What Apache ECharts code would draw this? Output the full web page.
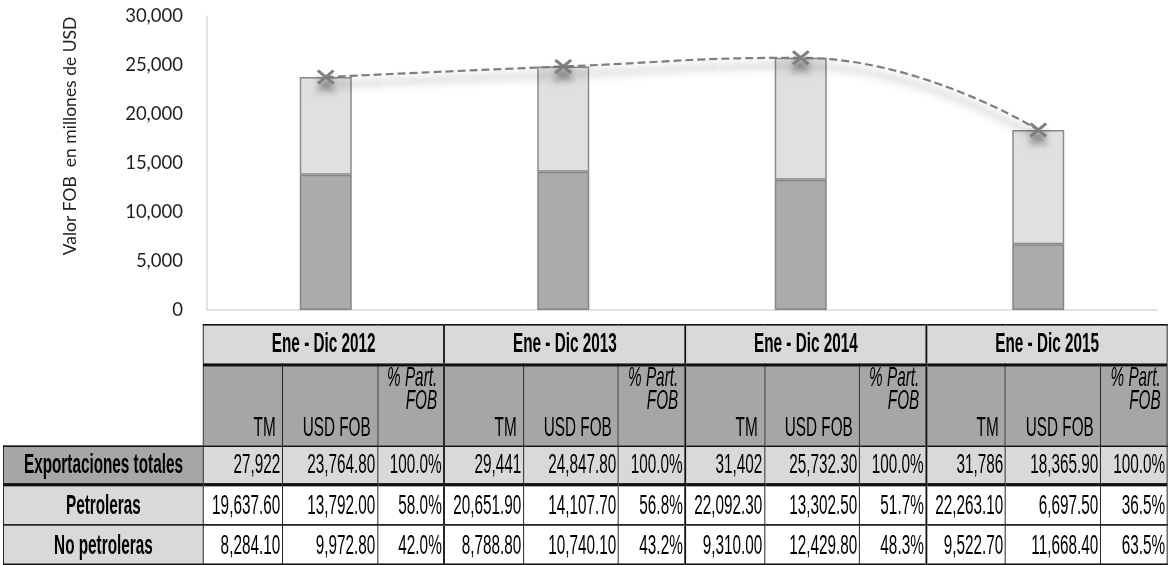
<!DOCTYPE html>
<html>
<head>
<meta charset="utf-8">
<script src="https://cdn.jsdelivr.net/npm/echarts@6/dist/echarts.min.js"></script>
<style>
  html, body { margin: 0; padding: 0; background: #fff; overflow: hidden; }
  #chart { position: absolute; left: 0; top: 0; width: 1173px; height: 565px; }
  #tbl {
    position: absolute; left: 3px; top: 324px; width: 1294px;
    transform: scale(0.9, 1.64); transform-origin: 0 0;
    font-family: "Liberation Sans", Arial, sans-serif; font-size: 17px; color: #000;
  }
  #tbl table { border-collapse: collapse; table-layout: fixed; width: 1294px; }
  #tbl td { padding: 0; white-space: nowrap; overflow: hidden; border: 1px solid #111; }
  #tbl td.blank { border: none; background: #fff; }
  #tbl td.year { background: #d9d9d9; font-weight: bold; text-align: center; border-bottom: 2px solid #111; }
  #tbl td.sub { background: #a6a6a6; text-align: right; vertical-align: bottom; padding-right: 7px; padding-bottom: 1px; }
  #tbl td.pct { font-style: italic; vertical-align: top; line-height: 13.8px; padding-top: 0.5px; }
  #tbl td.lab { font-weight: bold; text-align: center; background: #d9d9d9; }
  #tbl td.val { text-align: right; padding-right: 2px; background: #fff; }
  #tbl tr.tot td { background: #d9d9d9; border-bottom: 2px solid #111; }
  #tbl tr.tot td.lab { background: #a6a6a6; }
  #tbl td.g { border-left: 2px solid #111; }
</style>
</head>
<body>
<div id="chart"></div>
<div id="tbl"></div>
<script>
// ---- data ----
const periods = ['Ene - Dic 2012', 'Ene - Dic 2013', 'Ene - Dic 2014', 'Ene - Dic 2015'];
const rowLabels = ['Exportaciones totales', 'Petroleras', 'No petroleras'];
const subHeaders = ['TM', 'USD FOB', '% Part.<br>FOB'];
const yTicks = [0, 5000, 10000, 15000, 20000, 25000, 30000];

const usdTotal   = [23764.80, 24847.80, 25732.30, 18365.90];
const usdPetro   = [13792.00, 14107.70, 13302.50, 6697.50];
const usdNoPetro = [9972.80, 10740.10, 12429.80, 11668.40];

const tmTotal   = [27922, 29441, 31402, 31786];
const tmPetro   = [19637.60, 20651.90, 22092.30, 22263.10];
const tmNoPetro = [8284.10, 8788.80, 9310.00, 9522.70];

const pctTotal   = [100.0, 100.0, 100.0, 100.0];
const pctPetro   = [58.0, 56.8, 51.7, 36.5];
const pctNoPetro = [42.0, 43.2, 48.3, 63.5];

const yAxisName = 'Valor FOB  en millones de USD';

// ---- chart ----
const chart = echarts.init(document.getElementById('chart'));
const xMark = 'path://M0,1.3 L1.3,0 L5,3.7 L8.7,0 L10,1.3 L6.3,5 L10,8.7 L8.7,10 L5,6.3 L1.3,10 L0,8.7 L3.7,5 Z';
chart.setOption({
  animation: false,
  grid: { left: 207, right: 16, top: 16, bottom: 255, containLabel: false },
  xAxis: {
    type: 'category', data: periods,
    axisLine: { show: true, lineStyle: { color: '#d9d9d9', width: 1.5 } },
    axisTick: { show: false }, axisLabel: { show: false }
  },
  yAxis: {
    type: 'value', min: yTicks[0], max: yTicks[yTicks.length - 1], interval: 5000,
    axisLine: { show: true, lineStyle: { color: '#d9d9d9', width: 1.5 } },
    axisTick: { show: false }, splitLine: { show: false },
    axisLabel: {
      margin: 24, color: '#1f1f1f', fontFamily: 'Lato', fontSize: 18.5,
      formatter: v => v.toLocaleString('en-US')
    }
  },
  graphic: [{
    type: 'text', x: 70, y: 136, rotation: Math.PI / 2,
    style: { text: yAxisName, fontFamily: 'Lato', fontSize: 17.5, fill: '#1f1f1f', align: 'center', verticalAlign: 'middle' }
  }],
  series: [
    {
      name: 'Petroleras', type: 'bar', stack: 'usd', data: usdPetro, barWidth: 52,
      itemStyle: { color: '#ababab', borderColor: '#858585', borderWidth: 1.5 }
    },
    {
      name: 'No petroleras', type: 'bar', stack: 'usd', data: usdNoPetro, barWidth: 52,
      itemStyle: { color: '#e0e0e0', borderColor: '#8a8a8a', borderWidth: 1.5 }
    },
    {
      name: 'Exportaciones totales', type: 'line', data: usdTotal, smooth: 0.5, z: 5,
      symbol: xMark, symbolSize: [18, 15],
      lineStyle: { color: '#7f7f7f', width: 2.2, type: [8, 4],
        shadowColor: 'rgba(0,0,0,0.6)', shadowBlur: 9, shadowOffsetY: 8 },
      itemStyle: { color: '#7f7f7f', shadowColor: 'rgba(0,0,0,0.55)', shadowBlur: 7, shadowOffsetY: 8 }
    }
  ]
});

// ---- table ----
const fmt2 = v => v.toLocaleString('en-US', { minimumFractionDigits: 2, maximumFractionDigits: 2 });
const fmt0 = v => v.toLocaleString('en-US', { maximumFractionDigits: 0 });
const pct = v => v.toFixed(1) + '%';
const labelW = 222.2, colW = [87.8, 105.6, 74.4];
const rowH = [24.4, 49.4, 23.8, 24.4, 24.4];

let h = '<table><colgroup><col style="width:' + labelW + 'px">';
periods.forEach(() => colW.forEach(w => { h += '<col style="width:' + w + 'px">'; }));
h += '</colgroup>';
h += '<tr style="height:' + rowH[0] + 'px"><td class="blank"></td>';
periods.forEach((p, i) => { h += '<td class="year' + (i ? ' g' : '') + '" colspan="3">' + p + '</td>'; });
h += '</tr><tr style="height:' + rowH[1] + 'px"><td class="blank"></td>';
periods.forEach((p, i) => subHeaders.forEach((s, j) => {
  h += '<td class="sub' + (j === 2 ? ' pct' : '') + (j === 0 && i ? ' g' : '') + '">' + s + '</td>';
}));
h += '</tr>';
const rows = [
  { tm: tmTotal.map(fmt0), usd: usdTotal.map(fmt2), p: pctTotal.map(pct), cls: 'tot' },
  { tm: tmPetro.map(fmt2), usd: usdPetro.map(fmt2), p: pctPetro.map(pct), cls: '' },
  { tm: tmNoPetro.map(fmt2), usd: usdNoPetro.map(fmt2), p: pctNoPetro.map(pct), cls: '' }
];
rows.forEach((r, k) => {
  h += '<tr class="' + r.cls + '" style="height:' + rowH[k + 2] + 'px"><td class="lab">' + rowLabels[k] + '</td>';
  periods.forEach((p, i) => {
    h += '<td class="val' + (i ? ' g' : '') + '">' + r.tm[i] + '</td>';
    h += '<td class="val">' + r.usd[i] + '</td>';
    h += '<td class="val">' + r.p[i] + '</td>';
  });
  h += '</tr>';
});
h += '</table>';
document.getElementById('tbl').innerHTML = h;
</script>
</body>
</html>
